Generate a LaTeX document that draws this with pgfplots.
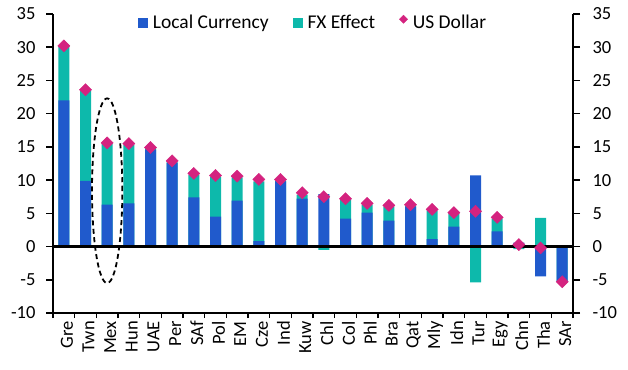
\documentclass[border=0pt]{standalone}
\usepackage{fontspec}
\setmainfont{Carlito}
\usepackage{pgfplots}
\usepackage{pgfplotstable}
\pgfplotsset{compat=1.18}
\definecolor{lcblue}{HTML}{205ACC}
\definecolor{fxteal}{HTML}{0DB9AB}
\definecolor{usdpink}{HTML}{D4237F}

% idx: category position; local: local-currency return;
% fxbar: extent of the FX-effect bar (top of stack when stacked on a positive local bar)
% usd: US-dollar return
\pgfplotstableread{
idx local fxbar usd
0  22.0 30.2 30.2
1  9.9  23.5 23.6
2  6.3  15.5 15.6
3  6.5  15.3 15.5
4  14.6 14.8 14.9
5  12.6 12.8 12.9
6  7.4  10.8 11.0
7  4.5  10.5 10.7
8  6.9  10.4 10.6
9  0.8  9.8  10.1
10 9.8  9.9  10.1
11 7.2  7.8  8.1
12 7.9  -0.5 7.5
13 4.2  7.1  7.2
14 5.1  6.3  6.5
15 3.9  6.0  6.2
16 6.0  6.1  6.3
17 1.1  5.4  5.6
18 3.0  5.0  5.1
19 10.7 -5.4 5.3
20 2.3  4.2  4.4
21 0.6  -0.4 0.3
22 -4.5 4.3  -0.2
23 -5.2 -5.3 -5.3
}\datatable

\begin{document}
\begin{tikzpicture}
\path[use as bounding box] (0,0) rectangle (628pt,369pt);
\pgfplotsset{
  common/.style={
    width=520pt, height=299pt, scale only axis,
    at={(53pt,56pt)}, anchor=south west,
    xmin=-0.5, xmax=23.5, ymin=-10, ymax=35,
    ytick={-10,-5,...,35},
    tick align=outside,
    major tick length=7pt,
    minor tick length=5pt,
    axis line style={line width=1.8pt, -},
    every tick/.style={line width=1.6pt, black},
    tick label style={font=\fontsize{18.5}{20}\selectfont},
    /pgf/number format/assume math mode=true,
  }
}
\begin{axis}[common,
  axis x line*=bottom, axis y line*=left,
  xtick={0,...,23},
  xticklabels={Gre,Twn,Mex,Hun,UAE,Per,SAf,Pol,EM,Cze,Ind,Kuw,Chl,Col,Phl,Bra,Qat,Mly,Idn,Tur,Egy,Chn,Tha,SAr},
  major x tick style={draw=none},
  minor xtick={-0.5,0.5,...,23.5},
  xticklabel style={rotate=90, anchor=east, inner xsep=1pt, yshift=-3pt},
  yticklabel style={xshift=-7pt},
  legend style={at={(0.5,1.01)}, anchor=north, draw=none, fill=none,
    legend columns=3, font=\fontsize{19.5}{22}\selectfont,
    /tikz/every odd column/.append style={column sep=3pt},
    /tikz/every even column/.append style={column sep=22pt},
    legend cell align=left},
]
\addlegendimage{fill=lcblue, draw=none, legend image code/.code={\fill[lcblue] (0pt,-5pt) rectangle (10pt,5pt);}}
\addlegendentry{Local Currency}
\addlegendimage{fill=fxteal, draw=none, legend image code/.code={\fill[fxteal] (0pt,-5pt) rectangle (10pt,5pt);}}
\addlegendentry{FX Effect}
\addlegendimage{legend image code/.code={\fill[usdpink, rotate=45] (5pt,0pt) ++(-2.9pt,-2.9pt) rectangle ++(5.8pt,5.8pt);}}
\addlegendentry{US Dollar}

\addplot[ybar, bar width=11pt, bar shift=0pt, fill=fxteal, draw=none, forget plot] table[x=idx, y=fxbar] {\datatable};
\addplot[ybar, bar width=11pt, bar shift=0pt, fill=lcblue, draw=none, forget plot] table[x=idx, y=local] {\datatable};
\addplot[sharp plot, black, line width=2.2pt, forget plot] coordinates {(-0.5,0) (23.5,0)};
\addplot[only marks, mark=square*, mark size=4.3pt, mark options={rotate=45, fill=usdpink, draw=usdpink}, forget plot] table[x=idx, y=usd] {\datatable};
\draw[black, line width=1.8pt, dash pattern=on 5pt off 3.5pt] (axis cs:2,8.4) ellipse [x radius=0.7, y radius=13.9];
\end{axis}
\begin{axis}[common,
  axis y line*=right, axis x line=none,
  yticklabel style={xshift=9pt},
]
\addplot[draw=none] coordinates {(0,0)};
\end{axis}
\end{tikzpicture}
\end{document}
